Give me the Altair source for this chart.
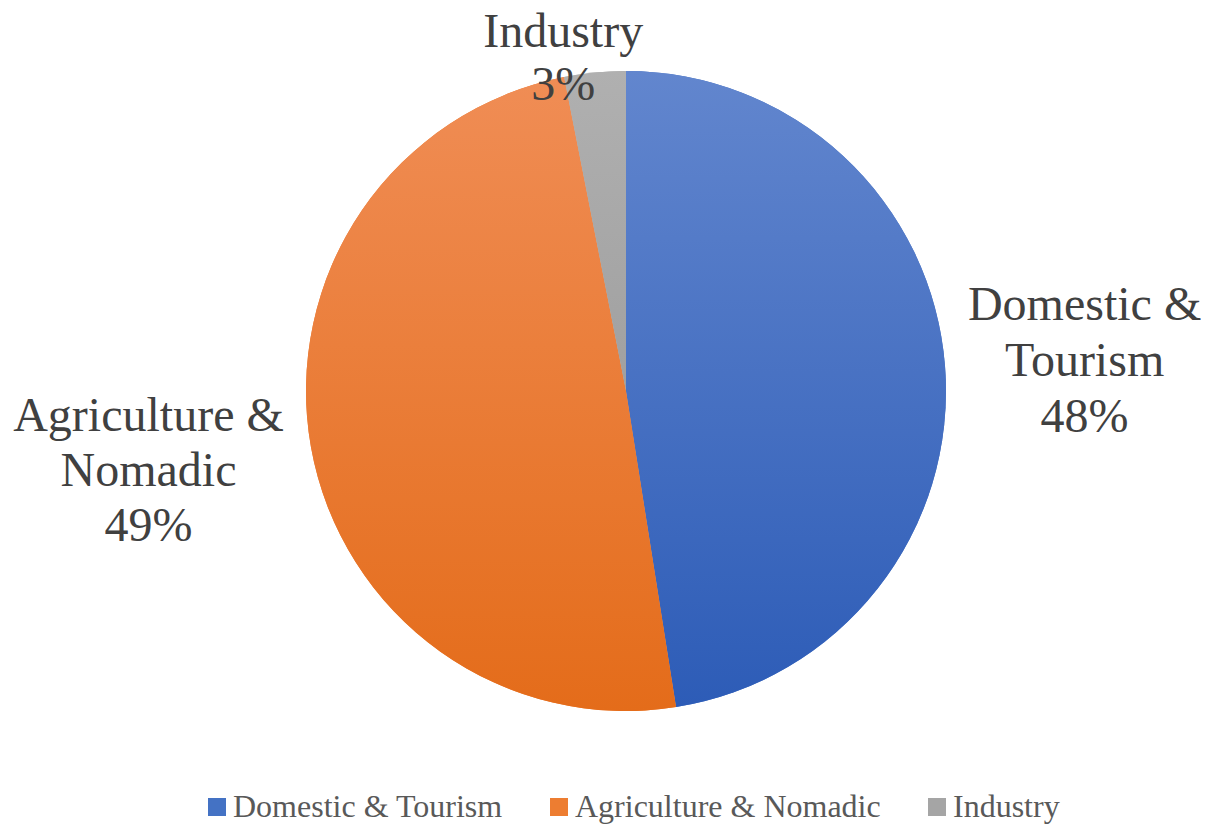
import altair as alt
import pandas as pd

categories = ["Domestic & Tourism", "Agriculture & Nomadic", "Industry"]
shares = [47.5, 49.4, 3.1]
label_text = ["Domestic &\nTourism\n48%", "Agriculture &\nNomadic\n49%", "Industry\n3%"]
order_idx = [0, 1, 2]

solid = ["#4472C4", "#ED7D31", "#A5A5A5"]
grad_top = ["#6286CE", "#F08D55", "#B0B0B0"]
grad_bot = ["#2D5CB7", "#E46C1A", "#A0A0A0"]

df = pd.DataFrame({"cat": categories, "share": shares, "label": label_text, "idx": order_idx})

CX, CY, R = 618, 383, 320

def grad(i):
    return alt.LinearGradient(
        gradient="linear", x1=0, y1=0, x2=0, y2=1,
        stops=[alt.GradientStop(color=grad_top[i], offset=0),
               alt.GradientStop(color=grad_bot[i], offset=1)])

base = alt.Chart(df)

theta = alt.Theta("share:Q", stack=True)
order = alt.Order("idx:Q", sort="ascending")

pie = base.mark_arc(outerRadius=R, strokeWidth=0).encode(
    theta=theta,
    order=order,
    x=alt.value(CX), y=alt.value(CY),
    color=alt.Color(
        "cat:N",
        scale=alt.Scale(domain=categories, range=solid),
        sort=categories,
        legend=alt.Legend(
            title=None, orient="none", direction="horizontal",
            legendX=193, legendY=783, padding=0,
            symbolType="square", symbolSize=324, symbolStrokeWidth=0,
            labelFont="Liberation Serif", labelFontSize=32, labelColor="#595959",
            labelOffset=0, columnPadding=40, symbolOpacity=1,
            labelLimit=0,
        ),
    ),
)

fill_cond = (
    alt.when(alt.datum.cat == categories[0]).then(alt.value(grad(0)))
    .when(alt.datum.cat == categories[1]).then(alt.value(grad(1)))
    .otherwise(alt.value(grad(2)))
)

pie_grad = base.mark_arc(outerRadius=R, strokeWidth=0).encode(
    theta=theta,
    order=order,
    x=alt.value(CX), y=alt.value(CY),
    fill=fill_cond,
)

text_style = dict(font="Liberation Serif", fontSize=48, lineHeight=56,
                  color="#404040", align="center", baseline="middle", lineBreak="\n")


def label_layer(name, radius, dx, dy, lh=56):
    style = dict(text_style)
    style["lineHeight"] = lh
    return base.mark_text(dx=dx, dy=dy, **style).encode(
        theta=theta,
        order=order,
        x=alt.value(CX), y=alt.value(CY),
        radius=alt.value(radius),
        text=alt.Text("label:N"),
        opacity=alt.condition(alt.datum.cat == name, alt.value(1), alt.value(0)),
    )


labels_dom = label_layer(categories[0], 463, -3, -49)
labels_agr = label_layer(categories[1], 485, 0, -59, lh=55)
labels_ind = label_layer(categories[2], 338, -30, -22, lh=53)

chart = alt.layer(pie, pie_grad, labels_dom, labels_agr, labels_ind).properties(
    width=1193, height=817,
    autosize=alt.AutoSizeParams(type="none"),
    padding=0,
    background="white",
).configure_view(strokeWidth=0, stroke="transparent")

chart.save("out.html", embed_options={"renderer": "svg", "actions": False})
